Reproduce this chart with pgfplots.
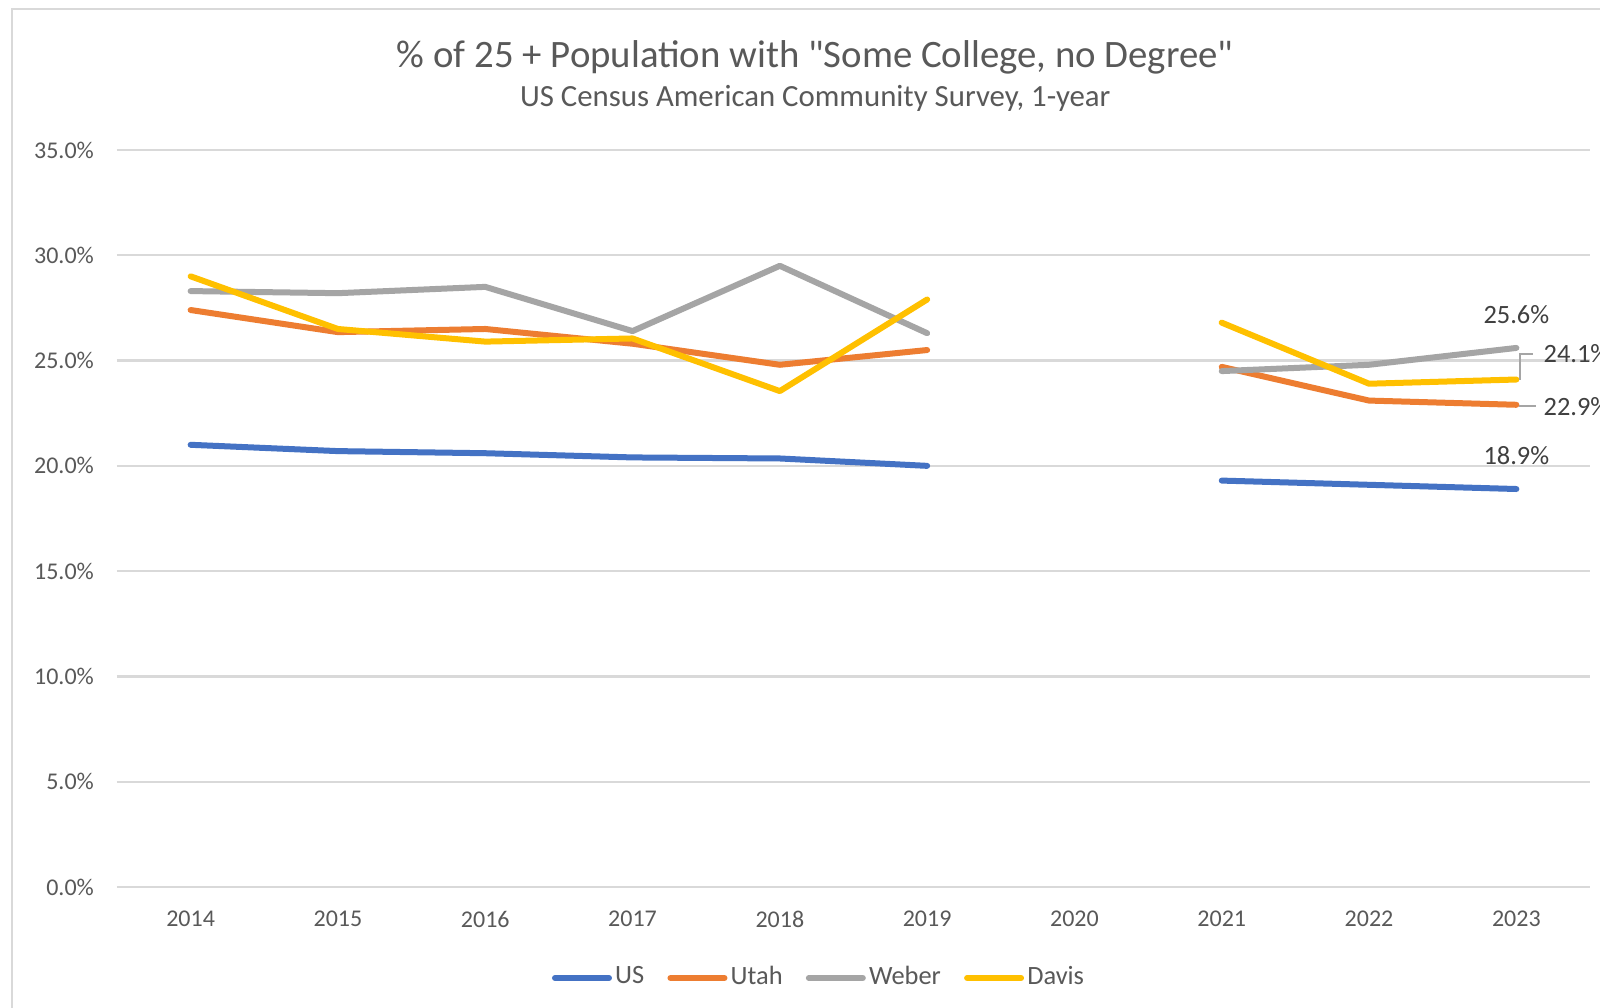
\documentclass[border=0pt]{standalone}
\usepackage{pgfplots}
\pgfplotsset{compat=1.18}
\usepackage{fontspec}
\setmainfont{Carlito}[Ligatures=TeXOff]
\definecolor{cUS}{HTML}{4472C4}
\definecolor{cUtah}{HTML}{ED7D31}
\definecolor{cWeber}{HTML}{A5A5A5}
\definecolor{cDavis}{HTML}{FFC000}
\definecolor{txt}{HTML}{595959}
\definecolor{lbl}{HTML}{404040}
\definecolor{gridc}{HTML}{D9D9D9}
\begin{document}
\begin{tikzpicture}
\path[use as bounding box, clip] (0,0) rectangle (400pt,252pt);
\fill[white] (0,0) rectangle (400pt,252pt);
\draw[gridc, line width=0.5pt] (3pt,0) -- (3pt,249.75pt) -- (400pt,249.75pt);
\node[txt, font=\fontsize{9.7}{11}\selectfont] at (203.8pt,237.75pt) {\% of 25 + Population with "Some College, no Degree"};
\node[txt, font=\fontsize{7.7}{9}\selectfont] at (203.8pt,227.5pt) {US Census American Community Survey, 1-year};
\begin{axis}[
  at={(29.25pt,30.25pt)}, anchor=south west,
  scale only axis, width=368.25pt, height=184.25pt,
  xmin=2013.5, xmax=2023.5, ymin=0, ymax=35,
  axis line style={draw=none},
  tick style={draw=none},
  xmajorgrids=false,
  ymajorgrids=true, grid style={color=gridc, line width=0.6pt},
  ytick={0,5,10,15,20,25,30,35},
  yticklabels={0.0\%,5.0\%,10.0\%,15.0\%,20.0\%,25.0\%,30.0\%,35.0\%},
  xtick={2014,2015,2016,2017,2018,2019,2020,2021,2022,2023},
  xticklabels={2014,2015,2016,2017,2018,2019,2020,2021,2022,2023},
  ticklabel style={txt, font=\fontsize{6}{7}\selectfont},
  yticklabel style={xshift=-2.25pt},
  xticklabel style={yshift=-2.5pt},
  clip=false,
  unbounded coords=jump,
  every axis plot/.append style={line width=1.5pt, line join=round, line cap=round},
  legend columns=4,
  legend style={at={(0.477,-0.1235)}, anchor=center, draw=none, fill=none,
    font=\fontsize{6.6}{7.5}\selectfont, text=txt,
    /tikz/every even column/.append style={column sep=5pt},
    inner sep=0pt, nodes={inner sep=0.8pt}},
  legend image code/.code={\draw[#1,line cap=round] (0pt,0pt) -- (13.5pt,0pt);},
]
\addplot[cUS] coordinates {(2014,21.0) (2015,20.7) (2016,20.6) (2017,20.4) (2018,20.35) (2019,20.0) (2020,nan) (2021,19.3) (2022,19.1) (2023,18.9)};
\addlegendentry{US}
\addplot[cUtah] coordinates {(2014,27.4) (2015,26.35) (2016,26.5) (2017,25.8) (2018,24.8) (2019,25.5) (2020,nan) (2021,24.7) (2022,23.1) (2023,22.9)};
\addlegendentry{Utah}
\addplot[cWeber] coordinates {(2014,28.3) (2015,28.2) (2016,28.5) (2017,26.4) (2018,29.5) (2019,26.3) (2020,nan) (2021,24.5) (2022,24.8) (2023,25.6)};
\addlegendentry{Weber}
\addplot[cDavis] coordinates {(2014,29.0) (2015,26.5) (2016,25.9) (2017,26.05) (2018,23.55) (2019,27.9) (2020,nan) (2021,26.8) (2022,23.9) (2023,24.1)};
\addlegendentry{Davis}
\node[lbl, font=\fontsize{6.6}{7.5}\selectfont] at (axis cs:2023,27.2) {25.6\%};
\node[lbl, font=\fontsize{6.6}{7.5}\selectfont] at (axis cs:2023,20.5) {18.9\%};
\draw[cWeber, line width=0.5pt] (axis cs:2023.027,24.1) -- (axis cs:2023.027,25.32) -- (axis cs:2023.11,25.32);
\draw[cWeber, line width=0.5pt] (axis cs:2023.02,22.85) -- (axis cs:2023.13,22.85);
\node[lbl, font=\fontsize{6.6}{7.5}\selectfont, anchor=west, inner sep=0pt] at (axis cs:2023.18,25.32) {24.1\%};
\node[lbl, font=\fontsize{6.6}{7.5}\selectfont, anchor=west, inner sep=0pt] at (axis cs:2023.18,22.8) {22.9\%};
\end{axis}
\end{tikzpicture}
\end{document}
